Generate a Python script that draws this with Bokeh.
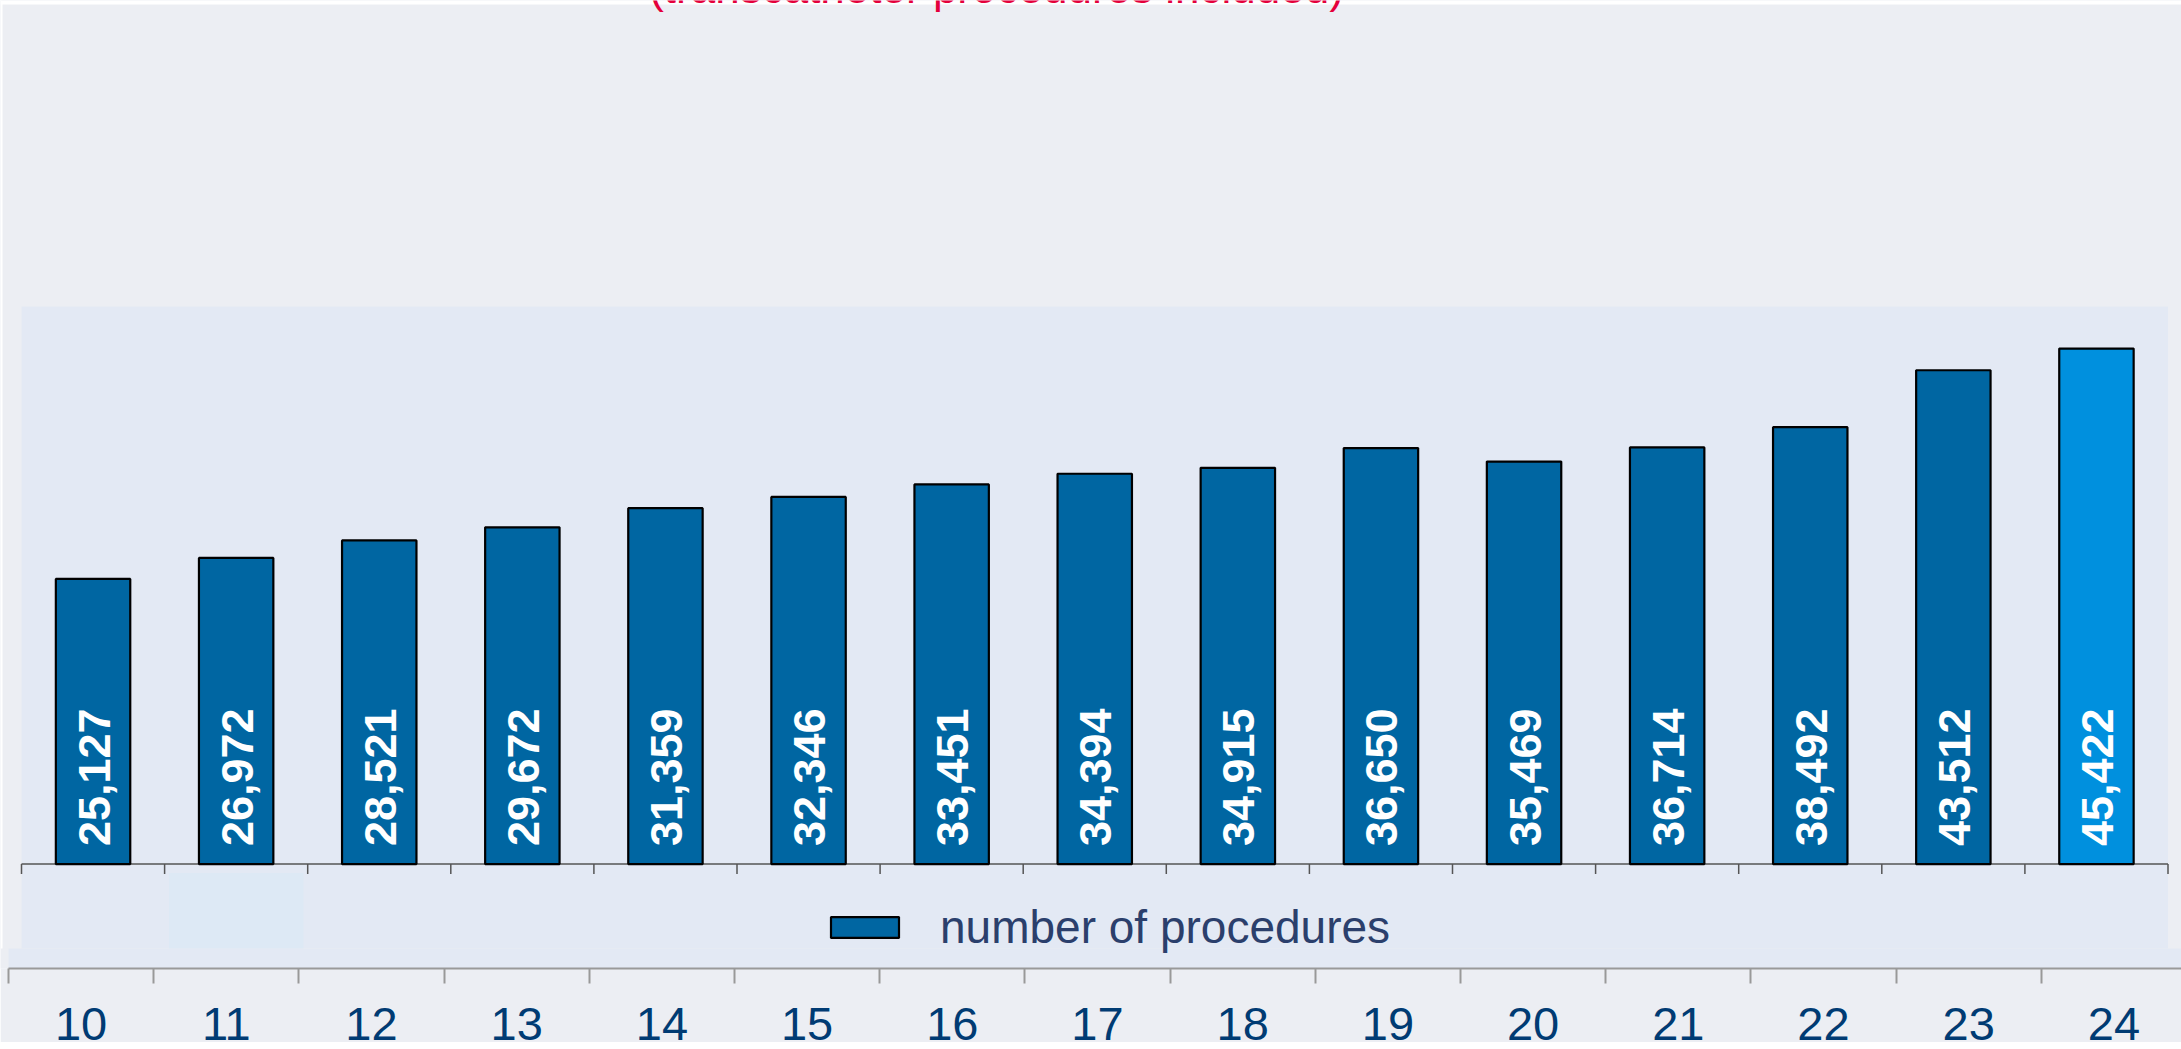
import math
from bokeh.plotting import figure
from bokeh.models import Range1d, LinearAxis, FixedTicker, Legend, LegendItem, ColumnDataSource
from bokeh.embed import file_html
from bokeh.resources import INLINE
from bokeh.core.properties import value

# ---------------- data ----------------
years = ["10", "11", "12", "13", "14", "15", "16", "17", "18", "19", "20", "21", "22", "23", "24"]
procedures = [25127, 26972, 28521, 29672, 31359, 32346, 33451, 34394, 34915, 36650,
              35469, 36714, 38492, 43512, 45422]
series_name = "number of procedures"
subtitle = "(transcatheter procedures included)"
base_color = "#0066a2"
latest_color = "#0090de"

# ---------------- layout constants ----------------
FRAME_W, FRAME_H = 2181, 968
PX_PER_UNIT = 0.01135                       # vertical pixels per procedure
BASE_PX = 863.6                             # screen y of the zero line
Y1 = BASE_PX / PX_PER_UNIT
Y0 = -(FRAME_H - BASE_PX) / PX_PER_UNIT
Y_PER_PX = 1 / PX_PER_UNIT
STEP, FIRST = 143.1, 92.55                  # inner category spacing / first centre
X0 = -FIRST / STEP
X1 = (FRAME_W - FIRST) / STEP
O_STEP, O_FIRST = 145.2, 80.6               # outer axis spacing / first centre
X_PER_PX = 1 / STEP

n = len(years)
idx = list(range(n))
colors = [base_color] * (n - 1) + [latest_color]
labels = [f"{v:,}" for v in procedures]

src = ColumnDataSource(dict(x=idx, top=procedures, color=colors, label=labels))

p = figure(frame_width=FRAME_W, frame_height=FRAME_H,
           x_range=Range1d(X0, X1), y_range=Range1d(Y0, Y1),
           x_axis_type=None, y_axis_type=None,
           toolbar_location=None, output_backend="svg",
           min_border=0, background_fill_color="#eceef3",
           border_fill_color="#eceef3", outline_line_color=None)

p.extra_x_ranges = {"outer": Range1d(-O_FIRST / O_STEP, (FRAME_W - O_FIRST) / O_STEP)}

FONT = "Liberation Sans"

# page-edge white bands of the source picture
p.quad(left=X0, right=X1, bottom=Y1 - 4 * Y_PER_PX, top=Y1, fill_color="white", line_color=None)
p.quad(left=X0, right=X0 + 2 * X_PER_PX, bottom=Y0 + 20 * Y_PER_PX, top=Y1,
       fill_color="white", line_color=None)

# subtitle, cut off at the top edge as in the source picture
p.text(x=[(996 - FIRST) / STEP], y=[Y1 + 13.5 * Y_PER_PX],
       text=[subtitle], text_align="center", text_baseline="alphabetic",
       text_color="#e4003b", text_font=value(FONT), text_font_size="44px")

# inner panel
panel_top = Y1 - 306 * Y_PER_PX
panel_bottom = Y0 + 20 * Y_PER_PX
p.quad(left=-0.5, right=n - 0.5, bottom=panel_bottom, top=panel_top,
       fill_color="#e3e9f4", line_color=None)
p.quad(left=-0.5 - 13 * X_PER_PX, right=X1, bottom=Y0, top=panel_bottom,
       fill_color="#e3e9f4", line_color=None)
# faint highlight box under category "11"
p.quad(left=1 - 0.47, right=1 + 0.47, bottom=panel_bottom, top=-9 * Y_PER_PX,
       fill_color="#dde9f5", line_color=None)

# inner axis line + ticks at category boundaries
bounds = [i - 0.5 for i in range(n + 1)]
p.segment(x0=-0.5, y0=0, x1=n - 0.5, y1=0, line_color="#555555", line_width=1.5)
p.segment(x0=bounds, y0=[0] * len(bounds), x1=bounds, y1=[-10 * Y_PER_PX] * len(bounds),
          line_color="#555555", line_width=1.5)

bars = p.vbar(x="x", top="top", bottom=0, width=0.52, source=src,
              fill_color="color", line_color="black", line_width=2.2)

p.text(x="x", y=0, text="label", source=src, angle=math.pi / 2,
       text_align="left", text_baseline="middle", y_offset=-18, x_offset=1,
       text_color="white", text_font=value(FONT), text_font_style="bold",
       text_font_size="45px")

legend = Legend(items=[LegendItem(label=series_name, renderers=[bars], index=0)],
                location=(822, 14), orientation="horizontal",
                glyph_width=85, glyph_height=26, label_standoff=33,
                label_text_font=FONT, label_text_font_size="46px",
                label_text_color="#2b3f6c", padding=0, margin=0,
                border_line_color=None, background_fill_alpha=0)
p.add_layout(legend)

# outer category axis
outer = LinearAxis(x_range_name="outer",
                   ticker=FixedTicker(ticks=idx, minor_ticks=bounds),
                   bounds=(-0.5, (FRAME_W - O_FIRST) / O_STEP),
                   major_label_overrides={i: y for i, y in zip(idx, years)},
                   axis_line_color="#999999", axis_line_width=2,
                   major_tick_line_color=None, major_tick_in=0, major_tick_out=0,
                   minor_tick_line_color="#999999", minor_tick_line_width=2,
                   minor_tick_in=0, minor_tick_out=15,
                   major_label_standoff=24,
                   major_label_text_font=FONT, major_label_text_font_size="47px",
                   major_label_text_color="#003b73")
p.add_layout(outer, "below")

open("out.html", "w").write(file_html(p, INLINE))
